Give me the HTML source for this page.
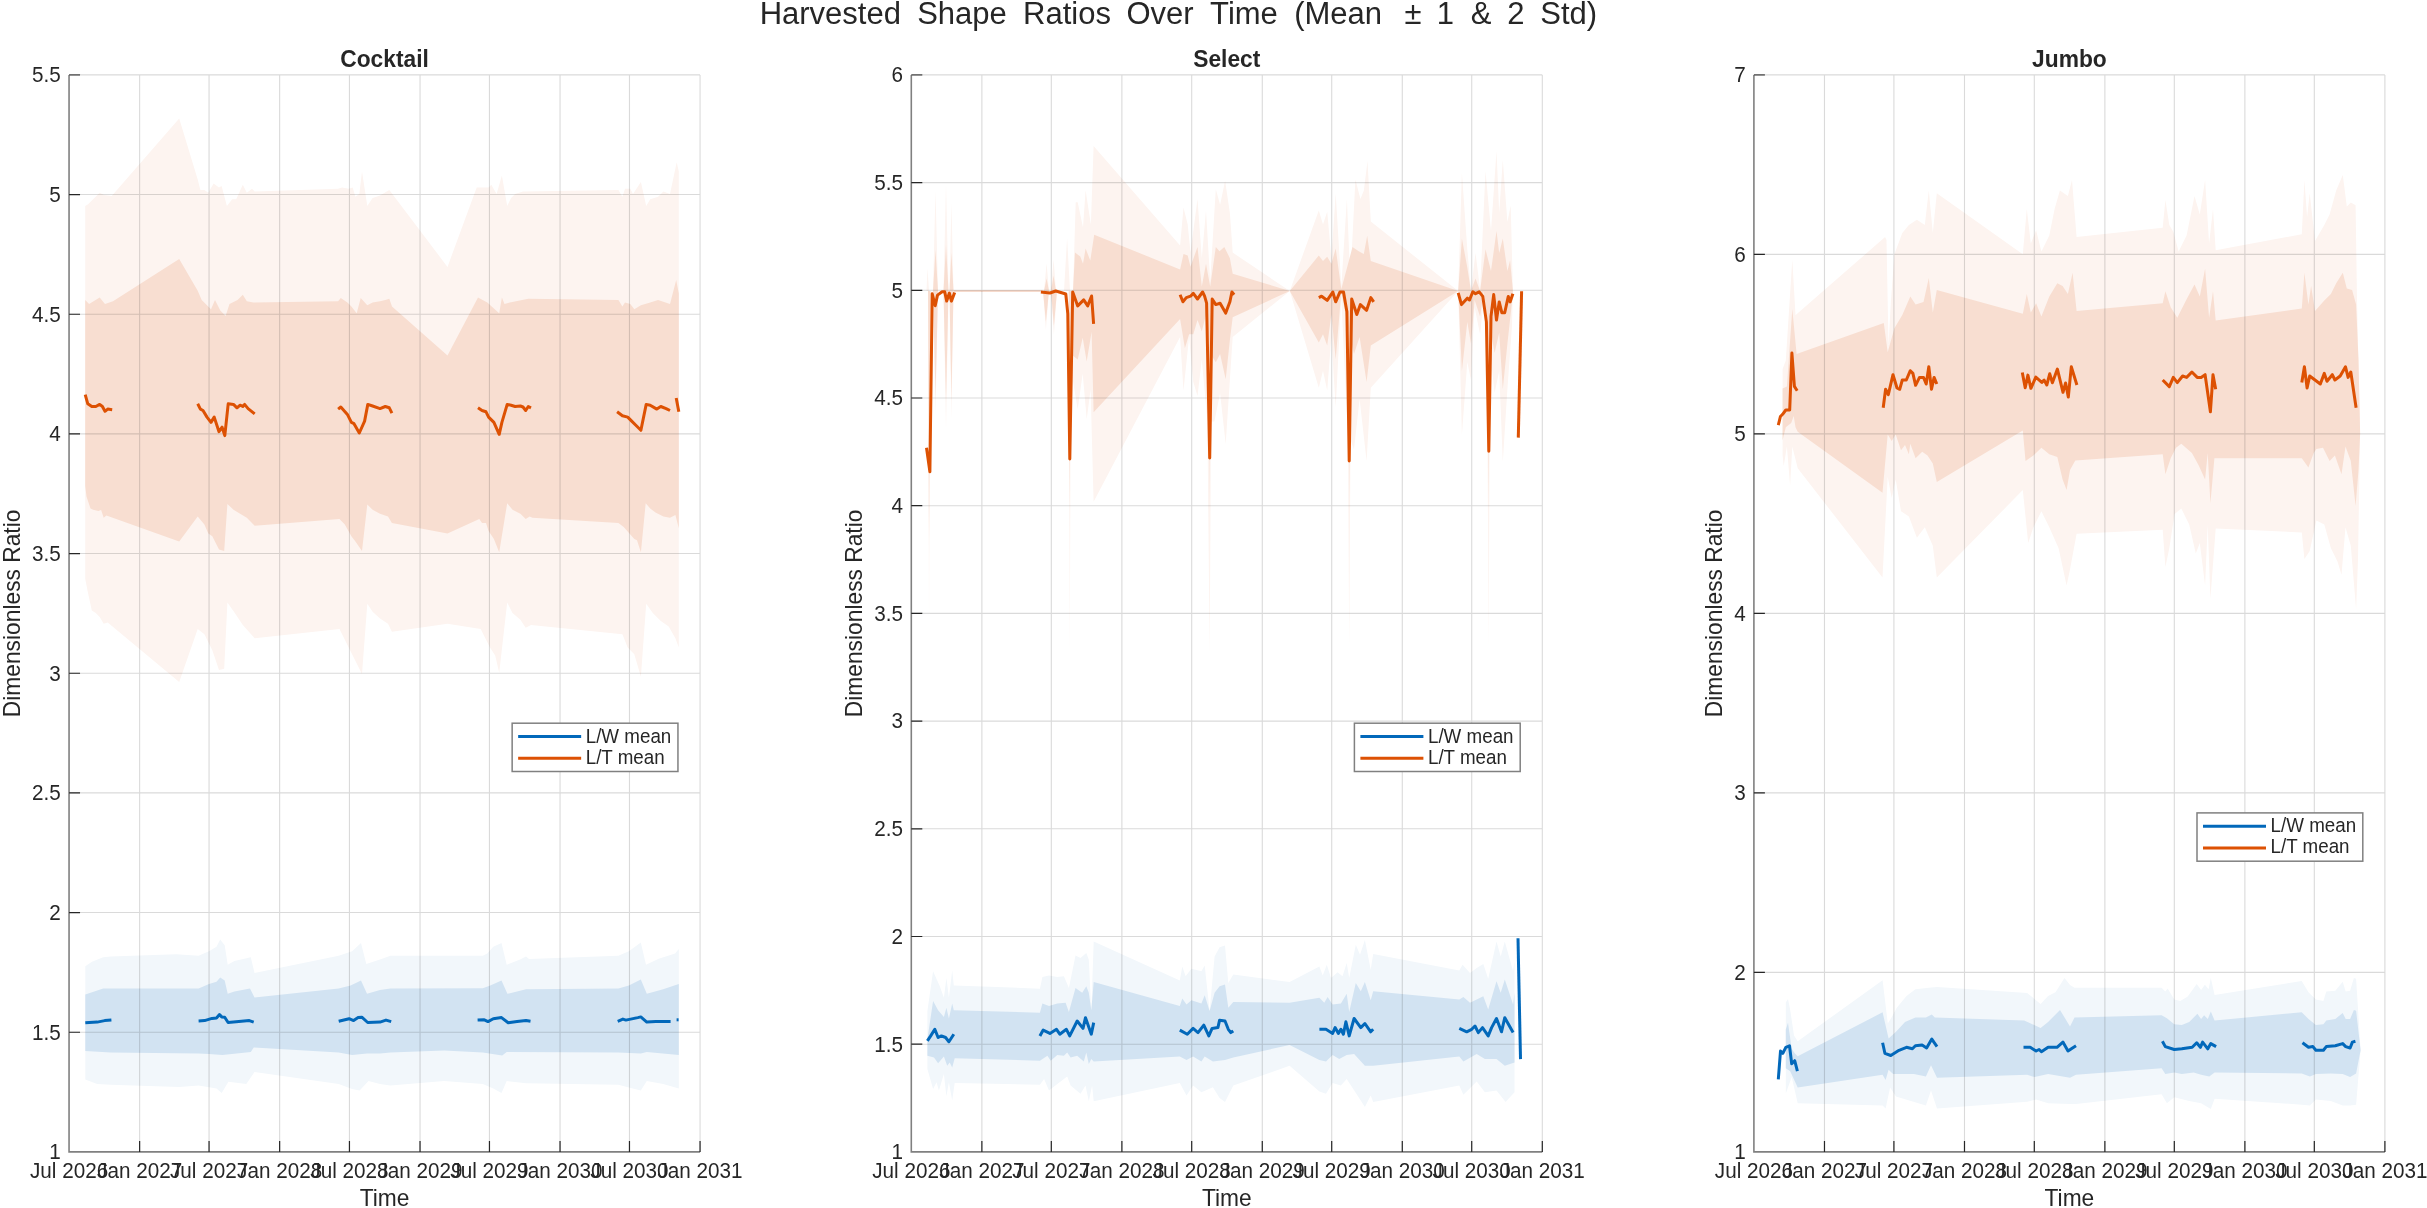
<!DOCTYPE html><html><head><meta charset="utf-8"><style>html,body{margin:0;padding:0;background:#fff;}svg{display:block;will-change:transform;}text{font-family:"Liberation Sans",sans-serif;fill:#262626;}</style></head><body>
<svg width="2427" height="1208" viewBox="0 0 2427 1208">
<rect width="2427" height="1208" fill="#fff"/>
<text transform="translate(759.65 24.1)" font-size="31">Harvested</text>
<text transform="translate(917.14 24.1)" font-size="31">Shape</text>
<text transform="translate(1023.02 24.1)" font-size="31">Ratios</text>
<text transform="translate(1126.51 24.1)" font-size="31">Over</text>
<text transform="translate(1210.09 24.1)" font-size="31">Time</text>
<text transform="translate(1294.14 24.1)" font-size="31">(Mean</text>
<text transform="translate(1404.62 24.1)" font-size="31">±</text>
<text transform="translate(1436.82 24.1)" font-size="31">1</text>
<text transform="translate(1470.66 24.1)" font-size="31">&amp;</text>
<text transform="translate(1507.17 24.1)" font-size="31">2</text>
<text transform="translate(1540.24 24.1)" font-size="31">Std)</text>
<polygon points="85.2,206 87.8,204.6 99.7,192.7 104,195 111.7,196 179.2,118.5 197.7,179.5 200.4,190 204.4,190 208.3,192.7 213.6,183.4 219,187.4 221.6,186 226.9,206 232.2,199.3 236.2,199.3 242.8,184.8 246.8,192.7 252,188.7 254.7,191.4 338.1,188.7 342.1,187.4 348.7,188.7 352.7,187.4 355.4,196.7 359.3,194 362,171.5 367.3,206 372.6,198 380,195.4 389.3,190 447.5,266.9 476.7,187.4 488.6,187.4 491.3,184.8 496.6,194 501.9,175.5 507.2,206 511.1,198 515.1,194 523,191.4 618.4,190 622.4,196.7 625,188.7 630.3,188.7 633,194 640.9,182 646.2,206 650.2,199.3 658.1,196.7 663.4,191.4 670,194 676.7,162.3 678.8,171.5 678.8,647.5 675.4,638.3 668.7,626.4 660.8,621.1 652.8,613.1 646.2,603.8 640.9,676.7 634.3,654.2 627.7,647.5 622.4,634.3 531,625 525.7,627.7 520.4,619.7 512.5,613.1 507.2,602.5 499.2,672.7 495.2,655.5 490,647.5 483.3,634.3 480.7,629 447.5,623.7 391.9,631.7 388,623.7 380,618.4 372.6,611.8 367.3,603.8 362,674 354,658.1 346.1,642.3 339.5,629 254.7,638.3 242.8,625 234.8,613.1 227.4,602.5 224.2,668.7 219,670 212.3,650.2 204.4,634.3 197.7,629 179.2,682 107.7,622.4 103.7,623.7 99.7,617.1 95.8,613.1 91.8,610.5 87.8,592 85.2,578.7" fill="rgb(253,244,240)"/>
<polygon points="85.2,300 89.1,304 99.7,297.4 105,304 113,301.3 179.2,258.9 197.7,290.7 201.7,300 211,309.3 215,300 220.3,310.6 225.6,315.9 229.5,304 237.5,300 242.8,294.7 246.8,301.3 253.4,302.6 338.1,301.3 340.8,298 347.4,302.6 351.4,306.6 356.7,313.2 360.7,298 367.3,305.3 372.6,302.6 380,301.3 385.3,300 389.3,298.7 392,306.6 447.5,355.6 478,297.4 487.3,302.6 499.2,313.2 501.9,297.4 504.5,304 509.8,302.6 528.3,298.7 618.4,300 622.4,306.6 625,302.6 630.3,304 634.3,309.3 640.9,305.3 650.2,302.6 658.1,300 670,304 676.2,280.1 678.8,293.4 678.8,528.3 675.4,515.1 670,517.7 663.4,516.4 655.5,512.5 650.2,508.5 645.7,503.2 640.9,552.2 637,540.3 634.3,539 623.7,527 618.4,523 532.3,517.7 529.7,516.4 525.7,519.1 520.4,513.8 512.5,509.8 507.2,503.2 499.2,552.2 493.9,539 488.6,531 486,523 482,523 479.3,519.1 447.5,533.6 391.9,523 388,516.4 380,513.8 372.6,509.8 367.3,504.5 362,550.9 355.4,541.6 351.4,536.3 344.8,524.4 339.5,519.1 254.7,525.7 246.8,517.7 240.1,513.8 233.5,509.8 227.4,504 224.2,550.9 219,549.5 212.3,536.3 208.3,533.6 204.4,524.4 197.7,516.4 179.2,541.6 106.4,515.6 103.7,517.7 101.1,510 98.4,511.1 93.1,509.8 90.5,508.5 86.5,496.6 85.2,486" fill="rgb(248,222,209)"/>
<polygon points="85.3,966.2 92,961.7 103.2,957.3 110.7,956.5 176.2,954.3 198.6,955.8 209,951.3 216.5,946.8 220.2,939.4 224.7,945.3 227.7,964.7 234.4,961 250.8,957.3 254.5,972.9 338.7,955.8 352.1,951.3 361,943.1 366.3,964 380,959.5 390.4,955.8 482.8,955.8 487.3,953.5 493.3,946.8 501.5,943.1 506.7,964.7 520.1,959.5 526,956.5 529,959 618.4,955.8 628.9,951.3 640.8,942.4 646,964.7 658.7,958.7 675.1,953.5 678.8,949.1 678.8,1088.4 663.2,1083.9 646.8,1081 640.8,1090.6 628.9,1087.6 618.4,1084.7 526,1083.2 506.7,1081 501.5,1092.9 493.3,1088.4 482.8,1083.9 444.1,1081 390.4,1085.4 380,1083.9 368.5,1080.9 359.6,1090.6 352.1,1089.1 338.7,1083.9 254.5,1072 246.3,1083.9 228.4,1081.7 221.7,1092.9 216.5,1088.4 198.6,1085.4 179.2,1086.9 110.7,1084.7 97.2,1083.9 85.3,1079.5" fill="rgb(242,247,251)"/>
<polygon points="85.3,994.5 103.2,988.6 110.7,988.6 198.6,988.6 209,984.1 216.5,981.8 220.2,977.4 224.7,980.4 227.7,993.8 234.4,991.5 250,988.6 254.5,997.5 338.7,988.6 350.6,985.6 361,980.4 367,993.8 380,990 390.4,988.6 482.8,988.3 490.3,985.6 501.5,980.4 507.4,993.8 526,989.3 618.4,988.6 628.9,985.6 640.8,979.6 646.8,993.8 663.2,989.3 678.8,984.1 678.8,1054.9 646.8,1051.9 640.8,1053.4 618.4,1052.6 506.7,1051.9 502.2,1055.6 482.8,1052.6 444.1,1050.4 390.4,1052.6 380,1053.4 367,1053.4 352.1,1054.9 338.7,1052.6 253.7,1047.4 250.8,1051.9 222.4,1054.9 209,1054.1 198.6,1053.4 110.7,1052.6 85.3,1051.1" fill="rgb(210,227,242)"/>
<path d="M139.63 74.9V1151.9M209.06 74.9V1151.9M279.64 74.9V1151.9M349.45 74.9V1151.9M420.03 74.9V1151.9M489.46 74.9V1151.9M560.04 74.9V1151.9M629.47 74.9V1151.9M700.05 74.9V1151.9M69.05 1032.23H700.05M69.05 912.57H700.05M69.05 792.9H700.05M69.05 673.23H700.05M69.05 553.57H700.05M69.05 433.9H700.05M69.05 314.23H700.05M69.05 194.57H700.05M69.05 74.9H700.05" stroke="#262626" stroke-opacity="0.17" stroke-width="1.1" fill="none"/>
<polyline points="85.3,1022.8 97.2,1022.1 104.7,1020.6 111.4,1020.1" fill="none" stroke="#0268ba" stroke-width="3" stroke-linejoin="round"/>
<polyline points="198.6,1021 204.6,1020.6 212,1018.4 216.5,1018 219.5,1014.6 221.7,1016.9 224.7,1017.2 228.1,1022.5 238.8,1021.6 249.3,1020.6 253.7,1022.1" fill="none" stroke="#0268ba" stroke-width="3" stroke-linejoin="round"/>
<polyline points="338.7,1021.3 349.1,1018.7 353.6,1020.6 358.1,1017.6 361.8,1017.2 367.7,1022.5 380,1022.1 386,1020.1 391.2,1021.6" fill="none" stroke="#0268ba" stroke-width="3" stroke-linejoin="round"/>
<polyline points="477.6,1020.1 484.3,1019.8 488,1021.6 493.3,1018.7 501.5,1017.6 508.2,1022.8 517.1,1021.6 526,1020.6 530.5,1021.3" fill="none" stroke="#0268ba" stroke-width="3" stroke-linejoin="round"/>
<polyline points="617.7,1021.3 622.9,1019.1 625.9,1020.1 637.8,1017.6 640.8,1016.9 646.8,1022.1 655.7,1021.6 670.6,1021.6" fill="none" stroke="#0268ba" stroke-width="3" stroke-linejoin="round"/>
<polyline points="676.6,1019.8 678.6,1019.8" fill="none" stroke="#0268ba" stroke-width="3" stroke-linejoin="round"/>
<polyline points="85.2,394.6 87.8,403.8 91.8,406.5 95.8,406.5 99.7,404.4 102.4,406.5 105,411.3 107.7,409.1 112.2,409.7" fill="none" stroke="#dd5103" stroke-width="3" stroke-linejoin="round"/>
<polyline points="197.7,403.8 200.4,409.1 203,410.5 207,417.1 211,422.4 214.2,417.1 219,431.7 222.1,427.2 224.8,435.6 228.2,403.8 233.5,404.4 237,407.8 240.1,405.2 242.8,406.5 244.6,404.4 248.1,408.6 254.7,413.9" fill="none" stroke="#dd5103" stroke-width="3" stroke-linejoin="round"/>
<polyline points="338.1,409.1 340.8,407 347.4,414.4 351.4,422.4 354,423.7 359.3,433 364.6,421.1 367.8,404.4 372.6,406 380,408.6 385.3,406.5 389.3,407.8 391.9,413.1" fill="none" stroke="#dd5103" stroke-width="3" stroke-linejoin="round"/>
<polyline points="478,407.8 482,410.5 486,411.8 488.6,417.1 493.9,422.4 499.2,434.3 501.9,422.4 507.2,404.4 511.1,405.2 515.1,406.5 520.4,406 523,407 525.7,410.5 528.3,406.5 531,407.8" fill="none" stroke="#dd5103" stroke-width="3" stroke-linejoin="round"/>
<polyline points="617.1,411.8 622.4,415.8 627.7,417.1 631.7,421.1 635.6,425 640.9,430.3 646.2,404.4 650.2,405.2 656.8,409.1 660.8,406.5 666.1,408.6 670,410.5" fill="none" stroke="#dd5103" stroke-width="3" stroke-linejoin="round"/>
<polyline points="676.2,398 678.8,411.8" fill="none" stroke="#dd5103" stroke-width="3" stroke-linejoin="round"/>
<path d="M69.05 74.9V1151.9H700.05" stroke="#808080" stroke-width="1.6" fill="none"/>
<path d="M139.63 1151.9V1140.9M209.06 1151.9V1140.9M279.64 1151.9V1140.9M349.45 1151.9V1140.9M420.03 1151.9V1140.9M489.46 1151.9V1140.9M560.04 1151.9V1140.9M629.47 1151.9V1140.9M700.05 1151.9V1140.9M69.05 1032.23H80.05M69.05 912.57H80.05M69.05 792.9H80.05M69.05 673.23H80.05M69.05 553.57H80.05M69.05 433.9H80.05M69.05 314.23H80.05M69.05 194.57H80.05" stroke="#262626" stroke-width="1.2" fill="none"/>
<path d="M69.05 74.9H80.05" stroke="#555" stroke-width="1.4" fill="none"/>
<text transform="translate(69.05 1177.7) scale(1 1.045)" font-size="20.7" text-anchor="middle">Jul 2026</text>
<text transform="translate(139.63 1177.7) scale(1 1.045)" font-size="20.7" text-anchor="middle">Jan 2027</text>
<text transform="translate(209.06 1177.7) scale(1 1.045)" font-size="20.7" text-anchor="middle">Jul 2027</text>
<text transform="translate(279.64 1177.7) scale(1 1.045)" font-size="20.7" text-anchor="middle">Jan 2028</text>
<text transform="translate(349.45 1177.7) scale(1 1.045)" font-size="20.7" text-anchor="middle">Jul 2028</text>
<text transform="translate(420.03 1177.7) scale(1 1.045)" font-size="20.7" text-anchor="middle">Jan 2029</text>
<text transform="translate(489.46 1177.7) scale(1 1.045)" font-size="20.7" text-anchor="middle">Jul 2029</text>
<text transform="translate(560.04 1177.7) scale(1 1.045)" font-size="20.7" text-anchor="middle">Jan 2030</text>
<text transform="translate(629.47 1177.7) scale(1 1.045)" font-size="20.7" text-anchor="middle">Jul 2030</text>
<text transform="translate(700.05 1177.7) scale(1 1.045)" font-size="20.7" text-anchor="middle">Jan 2031</text>
<text transform="translate(60.85 1159.2) scale(1 1.045)" font-size="20.7" text-anchor="end">1</text>
<text transform="translate(60.85 1039.53) scale(1 1.045)" font-size="20.7" text-anchor="end">1.5</text>
<text transform="translate(60.85 919.87) scale(1 1.045)" font-size="20.7" text-anchor="end">2</text>
<text transform="translate(60.85 800.2) scale(1 1.045)" font-size="20.7" text-anchor="end">2.5</text>
<text transform="translate(60.85 680.53) scale(1 1.045)" font-size="20.7" text-anchor="end">3</text>
<text transform="translate(60.85 560.87) scale(1 1.045)" font-size="20.7" text-anchor="end">3.5</text>
<text transform="translate(60.85 441.2) scale(1 1.045)" font-size="20.7" text-anchor="end">4</text>
<text transform="translate(60.85 321.53) scale(1 1.045)" font-size="20.7" text-anchor="end">4.5</text>
<text transform="translate(60.85 201.87) scale(1 1.045)" font-size="20.7" text-anchor="end">5</text>
<text transform="translate(60.85 82.2) scale(1 1.045)" font-size="20.7" text-anchor="end">5.5</text>
<text transform="translate(384.55 1205.7) scale(1 1.045)" font-size="22.8" text-anchor="middle">Time</text>
<text transform="translate(20.05 613.4) rotate(-90) scale(1 1.045)" font-size="22.8" text-anchor="middle">Dimensionless Ratio</text>
<text transform="translate(384.55 66.7) scale(1 1.045)" font-size="22.8" text-anchor="middle" font-weight="bold">Cocktail</text>
<rect x="512.15" y="723.2" width="165.8" height="48.3" fill="#fff" stroke="#808080" stroke-width="1.5"/>
<path d="M518.15 736.5H581.15" stroke="#0268ba" stroke-width="3"/>
<path d="M518.15 758.3H581.15" stroke="#dd5103" stroke-width="3"/>
<text transform="translate(585.68 742.7) scale(1 1.045)" font-size="18.8">L/W mean</text>
<text transform="translate(585.68 763.6) scale(1 1.045)" font-size="18.8">L/T mean</text>
<polygon points="926.5,291 927.5,268 929,291 933,291 935.5,190.5 938,291 943.5,291 946,183.8 948.5,291 949.5,291 951.4,202.4 953.5,291 1040.9,291 1044,291 1046.6,263.2 1049,291 1051,291 1053.6,259.2 1056,291 1064,291 1067.1,238 1070,291 1073,291 1075.7,202.3 1077.7,202.3 1083,227.4 1085.6,190.3 1090.9,224.8 1093.6,146 1180.1,245.5 1183.5,207.5 1187.7,224.4 1190.5,252.6 1197.5,199.1 1201.8,258.2 1206,210.4 1210.2,280.7 1215.8,189.3 1220.1,204.7 1225.1,180.8 1229.9,213.2 1232.7,252.6 1289.8,291 1318.8,210.4 1323,224.4 1327.2,211.8 1331.4,258.2 1335.7,193.5 1341.3,286.4 1346.9,199.1 1350.3,280.7 1355.4,179.4 1360.4,199.1 1363.8,190.7 1367.5,161.1 1370.8,221.6 1458.2,291 1461.9,172.8 1467.3,249.3 1471,291 1475.5,252.9 1480.1,289.4 1485.5,171 1491,231.1 1496.5,150.9 1499.2,212.9 1502.8,160 1507.4,222 1510.7,205.6 1512.9,291 1512.9,291 1512,325.5 1507.4,389.3 1502.8,462.1 1499.2,371.1 1494.6,392.9 1490,350 1488.7,650 1487,350 1483.7,298.2 1480.1,334.6 1474.6,307.3 1471,380.2 1467.3,362 1461.9,434.8 1458.2,291 1370.8,387.7 1366.6,460.9 1359.6,399 1354,449.6 1350.5,440 1349.2,650 1348,440 1341.3,297.6 1335.7,407.4 1331.4,337 1327.2,390.5 1323,370.8 1318.8,387.7 1289.8,291 1232.7,337 1229.9,379.2 1225.7,444 1220.1,393.3 1214.4,421.5 1211,421.5 1209.7,655 1207.4,421.5 1201.8,359.5 1197.5,396.1 1193.3,382 1189.1,337 1183.5,390.5 1180.1,337 1093.6,501.7 1090.6,389.4 1086.7,419.2 1082.7,373.5 1077.7,409.3 1072.7,379.5 1071,291 1069.8,655 1068.5,291 1057,291 1053.9,335 1051,291 1049,291 1045.9,330 1043,291 1040.9,291 953.5,291 951.4,420 949.5,291 948.5,291 946,430 943.5,291 938,291 935.5,415.8 933,291 930.5,291 929,628.7 928,291 926.5,291" fill="rgb(253,244,240)"/>
<polygon points="926.5,291 933,291 935.5,250 938,291 943.5,291 946,244.8 948.5,291 949.5,291 951.4,252.7 953.5,291 1040.9,291 1044,291 1046.6,278.4 1049,291 1051,291 1053.6,275.8 1056,291 1073,291 1075,252.6 1080.3,256.6 1083,263.8 1085.6,248.6 1090.3,260.5 1094.2,234.7 1180.1,269.5 1183.5,254 1187.7,255.4 1190.5,266.7 1197.5,247 1201.8,286.4 1206,263.8 1210.2,286.4 1215.8,247 1219.5,251.2 1224.3,247 1229.9,258.2 1232.7,273.7 1289.8,291 1318.8,255.4 1323,261 1327.2,256.8 1331.4,263.8 1335.7,248.4 1341.3,289.2 1352.5,247 1358.7,251.2 1363.8,254 1367.2,235.7 1370.8,261 1458.2,291 1461.9,238.4 1467.3,267.5 1471,291 1475.5,278.4 1480.1,291 1485.5,249.3 1491,271.1 1496.5,231.1 1499.2,252.9 1502.8,238.4 1507.4,271.1 1510.1,260.2 1512.9,291 1512.9,291 1512,301.9 1507.4,343.8 1502.8,389.3 1499.2,332.8 1494.6,352.9 1490,326.5 1489.6,326 1488.7,505 1487.8,322 1483.7,291 1480.1,316.4 1474.6,300 1471,343.8 1467.3,321.9 1461.9,371 1458.2,291 1370.8,345.5 1366.6,382 1359.6,337 1354,353.9 1350,335 1349.2,505 1348.5,330 1341.3,292 1335.7,359.5 1331.4,314.5 1327.2,345.5 1323,334.2 1318.8,342.6 1289.8,291 1232.7,317.3 1229.9,339.8 1225.7,379.2 1220.1,353.9 1215.8,362.3 1210.6,353.9 1210.4,352 1209.7,505 1209,340 1206,314.5 1201.8,331.4 1197.5,320.1 1193.3,334.2 1189.1,334.2 1184.9,348.3 1180.1,319 1093.6,412.3 1091.6,331.7 1086.7,361.6 1082.7,337.7 1077.7,359.6 1072.7,355.6 1071,291 1070.8,291 1069.8,505 1068.8,291 1057,291 1053.9,325.8 1051,291 1049,291 1045.9,321.8 1043,291 1040.9,291 953.5,291 951.4,398.6 949.5,291 948.5,291 946,400 943.5,291 938,291 935.5,396 933,291 930.5,291 929,543 928,291 926.5,291" fill="rgb(248,222,209)"/>
<polygon points="927.4,1011 933.1,971.3 939.8,986.2 943.9,997.8 946.4,977.9 948.9,997.8 952.2,970.5 953.8,985.4 1039.9,988.7 1042.4,977.1 1049,975.5 1057.3,977.1 1063.9,976.3 1068.9,987.9 1075.5,955.6 1080.5,958.1 1086.3,953.1 1088.8,959.7 1091.3,1011 1093.7,941.5 1179.8,980.4 1182.3,966.4 1185.6,976.3 1191.4,968.8 1201.4,971.3 1204.7,965.5 1209.6,1011 1214.6,956.4 1219.6,947.3 1225,945.5 1228.3,982.9 1233.3,974.6 1289.6,982.1 1319.4,966.4 1322.7,975.5 1326.8,964.7 1331,977.9 1337.6,972.2 1342.5,976.3 1346.7,963 1349.2,977.9 1355.8,944.8 1360,954.8 1364.9,939.9 1370.7,969.7 1373.2,953.9 1459.3,970.5 1462.6,964.7 1470,973 1476.7,968 1483.3,963.9 1488.2,978.8 1496.5,941.5 1500.7,956.4 1504.8,941.5 1513.1,971.3 1514.5,961.4 1514.5,1092.2 1505.6,1102.1 1496.5,1090.5 1484.9,1092.2 1476.7,1081.4 1463.4,1094.7 1459.3,1085.6 1373.2,1102.1 1370.7,1095.5 1364.9,1107.1 1357.5,1095.5 1346.7,1078.9 1340.9,1085.6 1332.6,1083.1 1326,1093.8 1319.4,1091.4 1289.6,1065.7 1233.3,1085.6 1225,1102.1 1219.6,1098 1212.9,1087.2 1201.4,1092.2 1193.1,1085.6 1186.5,1095.5 1179.8,1083.1 1093.7,1101.3 1092.1,1085.6 1088.8,1101.3 1085.5,1085.6 1080.5,1093.8 1070.6,1085.6 1067.2,1076.5 1057.3,1083.9 1049,1090.5 1044.1,1078.9 1039.9,1084.7 954.7,1083.1 952.2,1100.5 948.9,1082.3 946.4,1096.3 943.9,1074 938.9,1090.5 936.5,1082.3 933.1,1088.9 927.4,1069" fill="rgb(242,247,251)"/>
<polygon points="927.4,1039 933.1,1001.1 938.1,1010.2 943.9,1016.9 946.4,1007.7 948.9,1018.5 952.2,1003.6 953.8,1010.2 1039.9,1012.7 1042.4,1003.6 1049,1006.1 1057.3,1003.6 1065.6,1002.8 1068.9,1011.9 1075.5,987.9 1082.2,992.8 1086.3,986.2 1088.8,992.8 1091.3,1010.2 1093.7,982.1 1179.8,1006.1 1182.3,998.6 1186.5,1004.4 1191.4,1000.3 1201.4,1003.6 1204.7,995.3 1209.6,1011 1214.6,992.8 1219.6,986.2 1225,984.6 1228.3,1007.7 1233.3,1002 1289.6,1002.8 1319.4,997.8 1324.3,1002.8 1327.6,997 1332.6,1004.4 1340.9,1003.6 1346.7,993.7 1349.2,1011.9 1355.8,982.9 1360.8,991.2 1364.9,982.1 1370.7,1000.3 1373.2,991.2 1459.3,999.5 1463.4,997 1470,1002.8 1476.7,999.5 1483.3,996.2 1488.2,1009.4 1496.5,981.3 1500.7,992.8 1504.8,979.6 1513.1,1004.4 1514.5,992.8 1514.5,1062.4 1504.8,1065.7 1496.5,1059.1 1484.9,1059.1 1476.7,1054.1 1463.4,1061.6 1459.3,1056.6 1373.2,1065.7 1364.9,1065.7 1354.1,1054.1 1346.7,1054.9 1339.2,1059.1 1332.6,1054.9 1326,1061.6 1319.4,1059.9 1289.6,1045 1233.3,1057.4 1225,1060 1212.9,1061.6 1204.7,1056.6 1201.4,1061.6 1193.1,1056.6 1186.5,1059.9 1179.8,1056.6 1093.7,1061.6 1091.3,1059.1 1088.8,1064 1086.3,1052.5 1083.8,1061.6 1077.2,1055.8 1070.6,1057.4 1067.2,1052.5 1063.9,1055.8 1057.3,1054.9 1050.7,1060.7 1047.4,1055.8 1039.9,1060.7 954.7,1058.2 952.2,1067.4 949.7,1062.4 947.2,1065.7 943.9,1056.6 938.1,1063.2 934,1057.4 927.4,1055.8" fill="rgb(210,227,242)"/>
<path d="M953.5 291H1040.9" stroke="rgb(246,218,204)" stroke-width="2"/>
<path d="M981.88 74.9V1151.9M1051.31 74.9V1151.9M1121.89 74.9V1151.9M1191.7 74.9V1151.9M1262.28 74.9V1151.9M1331.71 74.9V1151.9M1402.29 74.9V1151.9M1471.72 74.9V1151.9M1542.3 74.9V1151.9M911.3 1044.2H1542.3M911.3 936.5H1542.3M911.3 828.8H1542.3M911.3 721.1H1542.3M911.3 613.4H1542.3M911.3 505.7H1542.3M911.3 398H1542.3M911.3 290.3H1542.3M911.3 182.6H1542.3M911.3 74.9H1542.3" stroke="#262626" stroke-opacity="0.17" stroke-width="1.1" fill="none"/>
<polyline points="927.4,1040.9 930.7,1035.9 934.8,1029.3 938.1,1037.5 941.4,1035.9 945.6,1037.5 948.9,1041.7 953.8,1034.2" fill="none" stroke="#0268ba" stroke-width="3" stroke-linejoin="round"/>
<polyline points="1039.9,1035.9 1043.2,1030.1 1049.9,1033.4 1056.5,1029.3 1059.8,1034.2 1066.4,1029.3 1069.7,1035.9 1077.2,1021 1083,1028.4 1085.5,1017.7 1091.3,1034.2 1093.7,1022.6" fill="none" stroke="#0268ba" stroke-width="3" stroke-linejoin="round"/>
<polyline points="1179.8,1030.1 1187.3,1034.2 1193.1,1028.4 1198,1032.6 1203.8,1025.1 1208.8,1035.9 1212.1,1028.4 1217.9,1027.6 1219.6,1020.2 1225,1021 1228.3,1029.3 1230.8,1032.6 1233.3,1030.9" fill="none" stroke="#0268ba" stroke-width="3" stroke-linejoin="round"/>
<polyline points="1319.4,1029.3 1326,1029.3 1332.6,1033.4 1335.1,1027.6 1338.4,1033.4 1340.9,1029.3 1343.4,1034.2 1345.9,1021.8 1349.2,1035.9 1354.1,1018.5 1360.8,1027.6 1364.9,1023.5 1370.7,1031.8 1373.2,1029.3" fill="none" stroke="#0268ba" stroke-width="3" stroke-linejoin="round"/>
<polyline points="1459.3,1028.4 1466.7,1031.8 1471.7,1029.3 1475,1026 1478.3,1032.6 1482.5,1027.6 1488.2,1035.9 1491.6,1027.6 1496.5,1018.5 1501.5,1031.8 1504.8,1017.7 1513.1,1032.6" fill="none" stroke="#0268ba" stroke-width="3" stroke-linejoin="round"/>
<polyline points="1518,938.2 1520.5,1059.1" fill="none" stroke="#0268ba" stroke-width="3" stroke-linejoin="round"/>
<polyline points="926.5,447.8 929.9,471.7 932.2,293.8 935.2,305.7 937.5,295.1 942.1,291.8 944.7,291.8 946.7,301.1 949.4,293.1 951.4,301.1 954.7,292.5" fill="none" stroke="#dd5103" stroke-width="3" stroke-linejoin="round"/>
<polyline points="1040.9,292 1049.9,293 1055.8,291 1065.8,294 1067.8,313.9 1069.8,459 1072.7,292 1077.7,305.9 1083.7,299.9 1087.7,305.9 1091.6,296 1093.6,323.8" fill="none" stroke="#dd5103" stroke-width="3" stroke-linejoin="round"/>
<polyline points="1180.1,294.8 1182.9,301.8 1186.3,297.6 1190.5,296.2 1193.3,293.4 1197.5,299 1202.6,292 1204.6,296.2 1206.6,303.2 1209.7,458 1212.2,299 1215.8,304.6 1220.1,303.2 1225.7,313.1 1229.9,301.8 1231.9,292 1234.1,294.8" fill="none" stroke="#dd5103" stroke-width="3" stroke-linejoin="round"/>
<polyline points="1318.8,297.6 1321.6,296.2 1327.2,300.4 1332.8,292 1335.7,301.8 1339.9,292 1343.5,292 1346.9,311.7 1349.2,460.9 1351.7,299 1356.8,314.5 1360.4,304.6 1366.6,310.3 1370.8,297.6 1373.7,301.8" fill="none" stroke="#dd5103" stroke-width="3" stroke-linejoin="round"/>
<polyline points="1458.2,292.8 1461.5,304.6 1467.3,298.2 1469.5,300 1472.8,291.8 1475.5,293.7 1479.2,291.8 1482.8,296.4 1486.4,321.9 1488.8,451.2 1491,316.4 1493.7,294.6 1496.5,320.1 1499.2,301.9 1501.9,312.8 1504.7,312.8 1508.3,296.4 1510.1,301.9 1512.9,293.7" fill="none" stroke="#dd5103" stroke-width="3" stroke-linejoin="round"/>
<polyline points="1521.6,291.3 1518.3,437.6" fill="none" stroke="#dd5103" stroke-width="3" stroke-linejoin="round"/>
<path d="M911.3 74.9V1151.9H1542.3" stroke="#808080" stroke-width="1.6" fill="none"/>
<path d="M981.88 1151.9V1140.9M1051.31 1151.9V1140.9M1121.89 1151.9V1140.9M1191.7 1151.9V1140.9M1262.28 1151.9V1140.9M1331.71 1151.9V1140.9M1402.29 1151.9V1140.9M1471.72 1151.9V1140.9M1542.3 1151.9V1140.9M911.3 1044.2H922.3M911.3 936.5H922.3M911.3 828.8H922.3M911.3 721.1H922.3M911.3 613.4H922.3M911.3 505.7H922.3M911.3 398H922.3M911.3 290.3H922.3M911.3 182.6H922.3" stroke="#262626" stroke-width="1.2" fill="none"/>
<path d="M911.3 74.9H922.3" stroke="#555" stroke-width="1.4" fill="none"/>
<text transform="translate(911.3 1177.7) scale(1 1.045)" font-size="20.7" text-anchor="middle">Jul 2026</text>
<text transform="translate(981.88 1177.7) scale(1 1.045)" font-size="20.7" text-anchor="middle">Jan 2027</text>
<text transform="translate(1051.31 1177.7) scale(1 1.045)" font-size="20.7" text-anchor="middle">Jul 2027</text>
<text transform="translate(1121.89 1177.7) scale(1 1.045)" font-size="20.7" text-anchor="middle">Jan 2028</text>
<text transform="translate(1191.7 1177.7) scale(1 1.045)" font-size="20.7" text-anchor="middle">Jul 2028</text>
<text transform="translate(1262.28 1177.7) scale(1 1.045)" font-size="20.7" text-anchor="middle">Jan 2029</text>
<text transform="translate(1331.71 1177.7) scale(1 1.045)" font-size="20.7" text-anchor="middle">Jul 2029</text>
<text transform="translate(1402.29 1177.7) scale(1 1.045)" font-size="20.7" text-anchor="middle">Jan 2030</text>
<text transform="translate(1471.72 1177.7) scale(1 1.045)" font-size="20.7" text-anchor="middle">Jul 2030</text>
<text transform="translate(1542.3 1177.7) scale(1 1.045)" font-size="20.7" text-anchor="middle">Jan 2031</text>
<text transform="translate(903.1 1159.2) scale(1 1.045)" font-size="20.7" text-anchor="end">1</text>
<text transform="translate(903.1 1051.5) scale(1 1.045)" font-size="20.7" text-anchor="end">1.5</text>
<text transform="translate(903.1 943.8) scale(1 1.045)" font-size="20.7" text-anchor="end">2</text>
<text transform="translate(903.1 836.1) scale(1 1.045)" font-size="20.7" text-anchor="end">2.5</text>
<text transform="translate(903.1 728.4) scale(1 1.045)" font-size="20.7" text-anchor="end">3</text>
<text transform="translate(903.1 620.7) scale(1 1.045)" font-size="20.7" text-anchor="end">3.5</text>
<text transform="translate(903.1 513) scale(1 1.045)" font-size="20.7" text-anchor="end">4</text>
<text transform="translate(903.1 405.3) scale(1 1.045)" font-size="20.7" text-anchor="end">4.5</text>
<text transform="translate(903.1 297.6) scale(1 1.045)" font-size="20.7" text-anchor="end">5</text>
<text transform="translate(903.1 189.9) scale(1 1.045)" font-size="20.7" text-anchor="end">5.5</text>
<text transform="translate(903.1 82.2) scale(1 1.045)" font-size="20.7" text-anchor="end">6</text>
<text transform="translate(1226.8 1205.7) scale(1 1.045)" font-size="22.8" text-anchor="middle">Time</text>
<text transform="translate(862.3 613.4) rotate(-90) scale(1 1.045)" font-size="22.8" text-anchor="middle">Dimensionless Ratio</text>
<text transform="translate(1226.8 66.7) scale(1 1.045)" font-size="22.8" text-anchor="middle" font-weight="bold">Select</text>
<rect x="1354.4" y="723.2" width="165.8" height="48.3" fill="#fff" stroke="#808080" stroke-width="1.5"/>
<path d="M1360.4 736.5H1423.4" stroke="#0268ba" stroke-width="3"/>
<path d="M1360.4 758.3H1423.4" stroke="#dd5103" stroke-width="3"/>
<text transform="translate(1427.93 742.7) scale(1 1.045)" font-size="18.8">L/W mean</text>
<text transform="translate(1427.93 763.6) scale(1 1.045)" font-size="18.8">L/T mean</text>
<polygon points="1782.6,369.1 1785.8,360.5 1792.3,259.4 1795.5,315.3 1797.7,313.2 1885.1,237 1886.5,240 1888.5,345 1891,300 1894.4,254.2 1902.3,233 1908.9,225 1916.9,219.7 1924.8,225 1928.8,190.6 1932.8,233 1936.8,193.2 2022.8,254.2 2026.8,209.1 2030.8,243.6 2036.1,230.3 2041.4,251.5 2049.3,235.6 2054.6,209.1 2059.9,190.6 2067.9,195.9 2072,180 2076.6,237 2162.7,227.7 2165.4,199.9 2169.3,225 2173.3,231.7 2178.6,251.5 2186.6,235.6 2194.5,195.9 2199.8,214.4 2205.1,180 2209.1,243.6 2213,209.1 2215.7,250.2 2301.8,234.3 2304.4,180 2307.1,217.1 2309.7,193.2 2315,240.9 2324.3,225 2329.6,214.4 2336.2,190.6 2342.8,175 2346.8,206.5 2350.8,202.5 2355.6,205.2 2357,300 2360.1,433 2360.1,434.4 2358,560 2356.1,609.3 2350.8,545.7 2345.5,527.2 2341.5,574.8 2337.5,561.6 2330.9,548.3 2324.3,524.5 2316.4,520.5 2309.7,551 2304.4,558.9 2301.8,532.5 2215.7,528.5 2210.4,598.7 2207.7,524.5 2205.1,585.4 2199.8,543 2195.8,553.6 2189.2,524.5 2181.3,508.6 2174.6,513.9 2169.3,548.3 2165.4,566.9 2162.7,529.8 2076.6,533.8 2070,569.5 2066.6,585.4 2058.6,548.3 2049.3,527.2 2041.4,511.3 2033.4,527.2 2028.2,543 2022.8,490.1 1936.8,577.5 1932.8,545.7 1924.8,527.2 1916.9,537.7 1908.9,516.6 1901,511.3 1895.7,479.5 1891.7,498 1887.7,476.8 1882.5,577.5 1797.7,468.2 1792.3,446.6 1790.1,485.4 1786.9,446.6 1783.7,466 1782.6,455.2" fill="rgb(253,244,240)"/>
<polygon points="1782.6,388.5 1786.9,386.4 1792.3,308.9 1796.6,354.1 1883.8,323 1887.7,352.2 1894.4,328.3 1902.3,315.1 1910.3,296.6 1915.6,304.5 1923.5,301.9 1928.8,278 1932.8,312.5 1936.8,289.9 2022.8,313.8 2026.8,293.9 2030.8,312.5 2036.1,303.2 2041.4,316.4 2049.3,296.6 2057.3,283.3 2062.6,286 2067.9,293.9 2072.6,272.7 2076.6,311.1 2162.7,303.2 2165.4,291.3 2170.7,307.2 2177.3,317.7 2186.6,299.2 2194.5,284.6 2199.8,296.6 2205.1,268.7 2209.1,317.7 2213,291.3 2215.7,320.4 2301.8,308.5 2304.4,272.7 2308.4,304.5 2311.1,286 2315,311.1 2324.3,300.5 2330.9,293.9 2336.2,283.3 2342.8,272.7 2346.8,288.6 2352.1,289.9 2356.1,304.5 2358.5,360 2360.1,431.7 2360.1,434.4 2358.5,470 2355.6,506 2350.8,460.9 2345.5,446.4 2341.5,474.2 2334.9,455.6 2329.6,460.9 2323,447.7 2316.4,449 2313.7,453 2308.4,467.5 2301.8,458.3 2214.4,458.3 2210.4,503.3 2207.7,453 2205.1,479.5 2198.5,464.9 2191.9,453 2181.3,443.7 2176,447.7 2170.7,458.3 2165.4,474.2 2162.7,454.3 2075.3,460.4 2070,470 2066.6,490.1 2062.6,479.5 2057.3,457 2049.3,454.3 2041.4,447.7 2033.4,455.6 2025.5,460.9 2022.8,430.5 1936.8,482.1 1932.8,463.6 1927.5,455.6 1922.2,451.7 1915.6,458.3 1910.3,443.7 1908.9,454.3 1905,445 1901,450.3 1895.7,434.4 1891.7,441.1 1887.7,434.4 1882.5,492.7 1797.7,431.8 1795.5,427.3 1793.7,415.9 1791.2,423 1785.8,427.3 1782.6,440.2" fill="rgb(248,222,209)"/>
<polygon points="1785.8,1002.6 1788,998.9 1790.2,1010 1794,1035.4 1797.7,1041.3 1882.6,980.2 1887.8,1023.5 1891.5,1017.5 1896.8,1007.8 1906.5,995.9 1915.4,989.2 1928.8,987.7 1937,986.9 2027.2,992.9 2040.6,1004.1 2048.1,995.9 2055.5,992.2 2064.5,978 2070,985 2074.5,987.7 2161.6,987.7 2165.3,991.4 2167.6,988.4 2174.3,999.6 2180.3,1001.1 2187.7,996.6 2196.7,984 2201.1,990 2204.9,984.7 2208.6,989.2 2210.8,978 2214.6,995.1 2301.7,981 2308.5,992.2 2315.9,999.6 2323.4,1001.1 2326.3,991.4 2335.3,990.7 2342.7,981.7 2345.7,991.4 2350.1,990.7 2353.9,978 2356.1,978.7 2360.6,1050.3 2360.6,1050.3 2356.1,1104.7 2350.1,1105.4 2342.7,1105.4 2330.8,1101 2315.9,1099.5 2309.9,1105.4 2301.7,1104.7 2214.6,1098.7 2210.8,1109.1 2201.1,1103.2 2189.2,1101 2174.3,1097.2 2166.9,1103.2 2161.6,1094.2 2076,1103.9 2070,1104 2048.1,1103.2 2036.1,1099.5 2027.2,1101.7 1937,1108.4 1931,1090.5 1925.9,1105.4 1910.9,1101 1896,1096.5 1890.1,1087.5 1885.6,1108.4 1882.6,1105.4 1797.7,1103.2 1791.7,1077.1 1785.8,1093.5" fill="rgb(242,247,251)"/>
<polygon points="1785.8,1029.4 1788,1022.7 1791.7,1048.8 1794.7,1053.3 1797.7,1056.2 1882.6,1012.3 1888.6,1038.4 1896,1031.7 1905,1022 1915.4,1017.5 1925.9,1017.5 1931.8,1014.5 1934.8,1017.5 2024.2,1020.5 2040.6,1027.9 2048.1,1022 2060,1010 2070,1026.4 2074.5,1017.5 2161.6,1015.3 2166.9,1018.2 2174.3,1024.2 2181.8,1024.9 2189.2,1022 2197.4,1013.8 2201.1,1019 2204.1,1015.3 2207.8,1019 2210.8,1011.5 2214.6,1020.5 2301.7,1012.3 2308.5,1019 2315.9,1024.9 2323.4,1024.2 2326.3,1020.5 2335.3,1019 2342.7,1013 2345.7,1019 2350.1,1019 2353.9,1010 2356.1,1010.8 2360.6,1050.3 2360.6,1050.3 2356.1,1073.4 2350.1,1077.1 2342.7,1074.1 2330.8,1073.4 2315.9,1074.1 2309.9,1076.4 2301.7,1073.4 2214.6,1072.6 2209.3,1076.4 2201.1,1074.8 2193.7,1072.6 2181.8,1074.1 2174.3,1072.6 2165.3,1074.1 2161.6,1068.2 2076,1074.8 2070,1077.8 2048.1,1074.1 2034.6,1077.1 2027.2,1074.8 1937,1077.8 1931,1065.2 1925.9,1076.4 1913.9,1074.1 1893.1,1074.1 1888.6,1069.7 1885.6,1080.1 1882.6,1074.8 1797.7,1087.5 1790.2,1071.2 1785.8,1068.2" fill="rgb(210,227,242)"/>
<path d="M1824.48 74.9V1151.9M1893.91 74.9V1151.9M1964.49 74.9V1151.9M2034.3 74.9V1151.9M2104.88 74.9V1151.9M2174.31 74.9V1151.9M2244.89 74.9V1151.9M2314.32 74.9V1151.9M2384.9 74.9V1151.9M1753.9 972.4H2384.9M1753.9 792.9H2384.9M1753.9 613.4H2384.9M1753.9 433.9H2384.9M1753.9 254.4H2384.9M1753.9 74.9H2384.9" stroke="#262626" stroke-opacity="0.17" stroke-width="1.1" fill="none"/>
<polyline points="1778.3,1079.3 1780.5,1051 1782.8,1053.3 1785.8,1047.3 1789.5,1045.8 1791.7,1063.7 1794.7,1060.7 1797.4,1071.2" fill="none" stroke="#0268ba" stroke-width="3" stroke-linejoin="round"/>
<polyline points="1882.6,1042.8 1884.9,1053.3 1890.8,1055.5 1899,1050.3 1906.5,1047.3 1912.4,1048.8 1915.4,1045.8 1922.1,1045.1 1926.6,1048 1931.8,1039.1 1937,1046.6" fill="none" stroke="#0268ba" stroke-width="3" stroke-linejoin="round"/>
<polyline points="2023.5,1047.3 2030.2,1047.3 2036.1,1051 2039.1,1049.5 2041.4,1051.8 2048.1,1047.3 2057,1047.3 2062.9,1042.1 2068,1051 2071,1049 2076,1045.8" fill="none" stroke="#0268ba" stroke-width="3" stroke-linejoin="round"/>
<polyline points="2162.4,1041.3 2165.3,1046.6 2174.3,1049.5 2181.8,1048.8 2192.2,1047.3 2196.7,1042.8 2200.4,1047.3 2202.6,1042.1 2207.8,1048.8 2210.8,1043.6 2216.1,1046.6" fill="none" stroke="#0268ba" stroke-width="3" stroke-linejoin="round"/>
<polyline points="2302.5,1042.8 2308.5,1047.3 2312.9,1046.6 2315.9,1050.3 2323.4,1050.3 2326.3,1046.6 2335.3,1045.8 2342.7,1043.6 2345.7,1046.6 2350.1,1048 2352.4,1042.1 2355.4,1041.3" fill="none" stroke="#0268ba" stroke-width="3" stroke-linejoin="round"/>
<polyline points="1778.3,425.1 1780.4,416.5 1782.6,414.3 1785.8,410 1789.7,410 1791.9,353 1794.4,386.4 1797.2,390.7" fill="none" stroke="#dd5103" stroke-width="3" stroke-linejoin="round"/>
<polyline points="1883.2,407.8 1885.6,389.3 1888.3,394.6 1893,374.7 1897,388 1899.7,389.3 1902.3,380 1906.3,380 1910.3,370.7 1912.9,373.4 1915.6,385.3 1919.5,377.4 1923.5,377.4 1926.2,384 1928.8,366.8 1931.5,389.3 1934.1,377.4 1936.8,384" fill="none" stroke="#dd5103" stroke-width="3" stroke-linejoin="round"/>
<polyline points="2022.3,372.5 2025.2,387.7 2027.9,375.1 2030.9,388.3 2035.8,377.1 2041.8,382.4 2044.1,380.1 2046.8,385 2049.7,373.8 2052.4,382.7 2057.4,369.1 2063,392.3 2065.6,383 2068.3,397 2071.3,366.8 2076.9,385" fill="none" stroke="#dd5103" stroke-width="3" stroke-linejoin="round"/>
<polyline points="2162.7,380 2169.3,386.6 2173.3,377.4 2177.3,382.6 2182.6,376 2186.6,377.4 2191.9,372 2197.2,377.4 2201.1,377.4 2205.1,374.7 2210.4,411.8 2213,374.7 2215.7,389.3" fill="none" stroke="#dd5103" stroke-width="3" stroke-linejoin="round"/>
<polyline points="2301.8,382.6 2304.4,366.8 2307.1,388 2309.7,376 2315,380 2320.3,384 2324.3,373.4 2327,381.3 2332.3,374.7 2334.9,380 2340.2,376 2345.5,366.8 2348.1,377.4 2350.8,372 2356.1,407.8" fill="none" stroke="#dd5103" stroke-width="3" stroke-linejoin="round"/>
<path d="M1753.9 74.9V1151.9H2384.9" stroke="#808080" stroke-width="1.6" fill="none"/>
<path d="M1824.48 1151.9V1140.9M1893.91 1151.9V1140.9M1964.49 1151.9V1140.9M2034.3 1151.9V1140.9M2104.88 1151.9V1140.9M2174.31 1151.9V1140.9M2244.89 1151.9V1140.9M2314.32 1151.9V1140.9M2384.9 1151.9V1140.9M1753.9 972.4H1764.9M1753.9 792.9H1764.9M1753.9 613.4H1764.9M1753.9 433.9H1764.9M1753.9 254.4H1764.9" stroke="#262626" stroke-width="1.2" fill="none"/>
<path d="M1753.9 74.9H1764.9" stroke="#555" stroke-width="1.4" fill="none"/>
<text transform="translate(1753.9 1177.7) scale(1 1.045)" font-size="20.7" text-anchor="middle">Jul 2026</text>
<text transform="translate(1824.48 1177.7) scale(1 1.045)" font-size="20.7" text-anchor="middle">Jan 2027</text>
<text transform="translate(1893.91 1177.7) scale(1 1.045)" font-size="20.7" text-anchor="middle">Jul 2027</text>
<text transform="translate(1964.49 1177.7) scale(1 1.045)" font-size="20.7" text-anchor="middle">Jan 2028</text>
<text transform="translate(2034.3 1177.7) scale(1 1.045)" font-size="20.7" text-anchor="middle">Jul 2028</text>
<text transform="translate(2104.88 1177.7) scale(1 1.045)" font-size="20.7" text-anchor="middle">Jan 2029</text>
<text transform="translate(2174.31 1177.7) scale(1 1.045)" font-size="20.7" text-anchor="middle">Jul 2029</text>
<text transform="translate(2244.89 1177.7) scale(1 1.045)" font-size="20.7" text-anchor="middle">Jan 2030</text>
<text transform="translate(2314.32 1177.7) scale(1 1.045)" font-size="20.7" text-anchor="middle">Jul 2030</text>
<text transform="translate(2384.9 1177.7) scale(1 1.045)" font-size="20.7" text-anchor="middle">Jan 2031</text>
<text transform="translate(1745.7 1159.2) scale(1 1.045)" font-size="20.7" text-anchor="end">1</text>
<text transform="translate(1745.7 979.7) scale(1 1.045)" font-size="20.7" text-anchor="end">2</text>
<text transform="translate(1745.7 800.2) scale(1 1.045)" font-size="20.7" text-anchor="end">3</text>
<text transform="translate(1745.7 620.7) scale(1 1.045)" font-size="20.7" text-anchor="end">4</text>
<text transform="translate(1745.7 441.2) scale(1 1.045)" font-size="20.7" text-anchor="end">5</text>
<text transform="translate(1745.7 261.7) scale(1 1.045)" font-size="20.7" text-anchor="end">6</text>
<text transform="translate(1745.7 82.2) scale(1 1.045)" font-size="20.7" text-anchor="end">7</text>
<text transform="translate(2069.4 1205.7) scale(1 1.045)" font-size="22.8" text-anchor="middle">Time</text>
<text transform="translate(1721.7 613.4) rotate(-90) scale(1 1.045)" font-size="22.8" text-anchor="middle">Dimensionless Ratio</text>
<text transform="translate(2069.4 66.7) scale(1 1.045)" font-size="22.8" text-anchor="middle" font-weight="bold">Jumbo</text>
<rect x="2197" y="812.9" width="165.8" height="48.3" fill="#fff" stroke="#808080" stroke-width="1.5"/>
<path d="M2203 826.2H2266" stroke="#0268ba" stroke-width="3"/>
<path d="M2203 848H2266" stroke="#dd5103" stroke-width="3"/>
<text transform="translate(2270.53 832.4) scale(1 1.045)" font-size="18.8">L/W mean</text>
<text transform="translate(2270.53 853.3) scale(1 1.045)" font-size="18.8">L/T mean</text>
</svg></body></html>
